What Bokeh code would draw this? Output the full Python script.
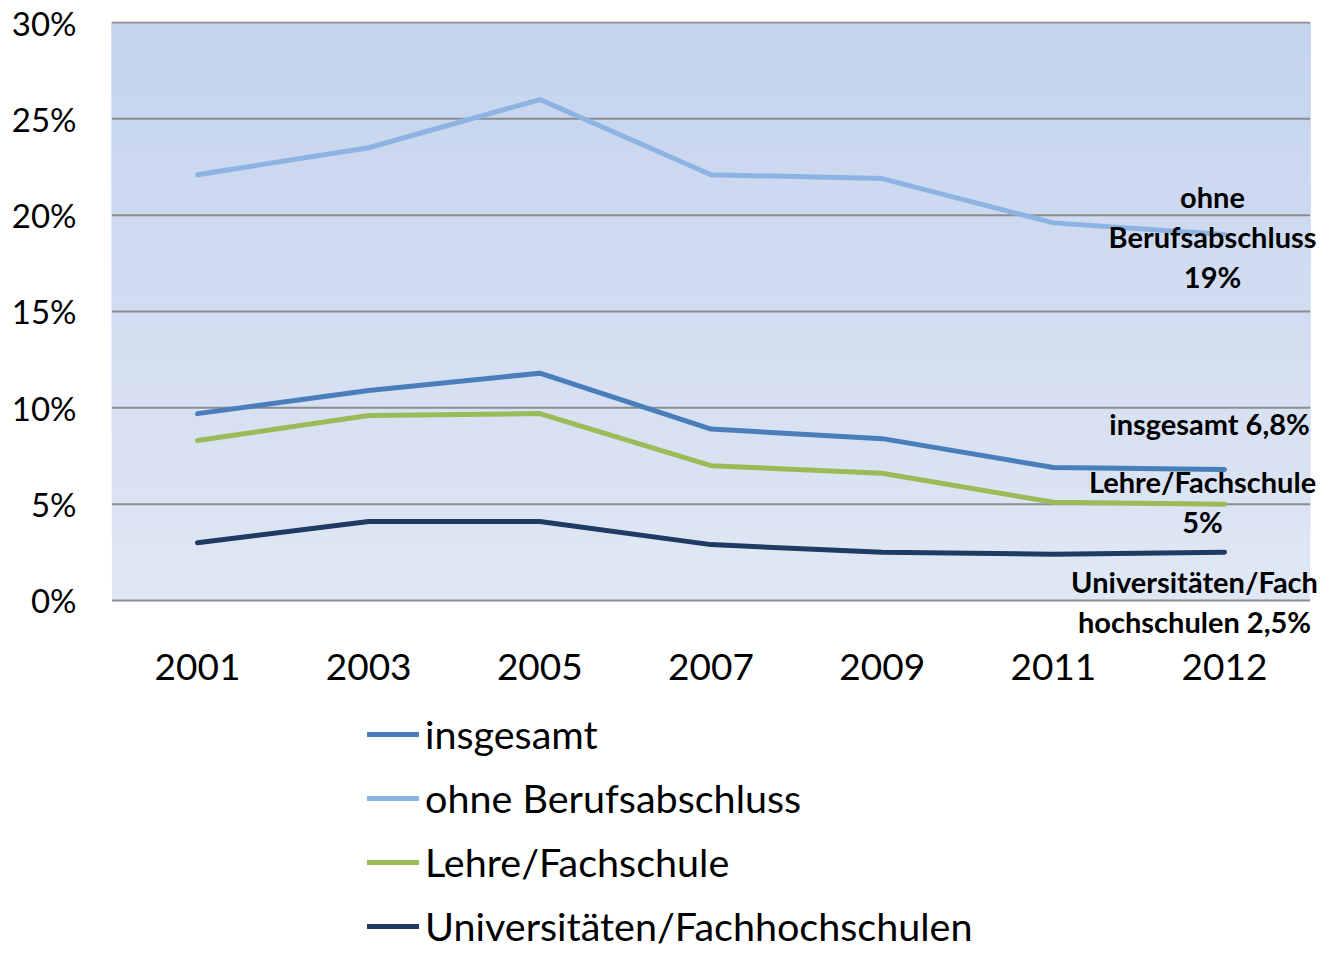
from bokeh.plotting import figure
from bokeh.layouts import column
from bokeh.models import (Label, Legend, LegendItem, BoxAnnotation, Range1d,
                          PrintfTickFormatter, FixedTicker)
from bokeh.embed import file_html
from bokeh.resources import INLINE

years = ["2001", "2003", "2005", "2007", "2009", "2011", "2012"]
insgesamt = [9.7, 10.9, 11.8, 8.9, 8.4, 6.9, 6.8]
ohne_beruf = [22.1, 23.5, 26.0, 22.1, 21.9, 19.6, 19.0]
lehre = [8.3, 9.6, 9.7, 7.0, 6.6, 5.1, 5.0]
uni = [3.0, 4.1, 4.1, 2.9, 2.5, 2.4, 2.5]
y_ticks = [0, 5, 10, 15, 20, 25, 30]

names = ["insgesamt", "ohne Berufsabschluss", "Lehre/Fachschule", "Universitäten/Fachhochschulen"]
series = [insgesamt, ohne_beruf, lehre, uni]
colors = ["#4a7ebb", "#8db3e2", "#9bbb59", "#1f3a63"]

FONT = "Lato"
W = 1318
H1, H2 = 700, 249
xi = list(range(len(years)))

p = figure(width=W, height=H1,
           x_range=Range1d(-0.5024, 6.549), y_range=Range1d(-2.336, 30.052),
           output_backend="svg", toolbar_location=None,
           min_border_left=111, min_border_right=0, min_border_top=21, min_border_bottom=55)
p.outline_line_color = None
p.background_fill_color = "white"
p.border_fill_color = "white"
p.xgrid.visible = False
p.ygrid.visible = False

# gradient background of plot area (overlapping bands, no seams)
n = 48
c_top = (0xc4, 0xd3, 0xee)
c_bot = (0xe0, 0xe7, 0xf4)
x_lo, x_hi = xi[0] - 0.5, xi[-1] + 0.5
for i in range(n):
    t = i / (n - 1)
    col = tuple(int(round(c_bot[k] + (c_top[k] - c_bot[k]) * t)) for k in range(3))
    p.add_layout(BoxAnnotation(left=x_lo, right=x_hi, bottom=30 * i / n, top=30,
                               fill_color="#%02x%02x%02x" % col, fill_alpha=1.0,
                               line_color=None, level="image"))

# horizontal gridlines restricted to plot area
p.segment(x0=[x_lo] * len(y_ticks), x1=[x_hi] * len(y_ticks), y0=y_ticks, y1=y_ticks,
          line_color="#8c8c8c", line_width=2, level="underlay")

p.yaxis.ticker = FixedTicker(ticks=y_ticks)
p.yaxis.formatter = PrintfTickFormatter(format="%d%%")
p.yaxis.axis_line_color = None
p.yaxis.major_tick_line_color = None
p.yaxis.minor_tick_line_color = None
p.yaxis.major_label_text_font = FONT
p.yaxis.major_label_text_font_size = "33px"
p.yaxis.major_label_text_color = "black"
p.yaxis.major_label_standoff = 29

p.xaxis.ticker = FixedTicker(ticks=xi)
p.xaxis.major_label_overrides = {i: y for i, y in zip(xi, years)}
p.xaxis.axis_line_color = None
p.xaxis.major_tick_line_color = None
p.xaxis.minor_tick_line_color = None
p.xaxis.major_label_text_font = FONT
p.xaxis.major_label_text_font_size = "37px"
p.xaxis.major_label_text_color = "black"
p.xaxis.major_label_standoff = 2

for name, vals, col in zip(names, series, colors):
    p.line(xi, vals, line_color=col, line_width=5, line_cap="round", line_join="round")

# end labels
def fmt(v):
    s = ("%.1f" % v).replace(".", ",")
    return s[:-2] if s.endswith(",0") else s

lab_kw = dict(text_font=FONT, text_font_style="bold", text_font_size="29px",
              text_color="black", text_align="center", text_baseline="middle",
              text_line_height=1.15)
xe = xi[-1]
p.add_layout(Label(x=xe, y=ohne_beruf[-1], x_offset=-12, y_offset=-2,
                   text="ohne\nBerufsabschluss\n" + fmt(ohne_beruf[-1]) + "%", **lab_kw))
p.add_layout(Label(x=xe, y=insgesamt[-1], x_offset=-15, y_offset=46,
                   text="insgesamt " + fmt(insgesamt[-1]) + "%", **lab_kw))
p.add_layout(Label(x=xe, y=lehre[-1], x_offset=-22, y_offset=3,
                   text="Lehre/Fachschule\n" + fmt(lehre[-1]) + "%", **lab_kw))
p.add_layout(Label(x=xe, y=uni[-1], x_offset=-30, y_offset=-49,
                   text="Universitäten/Fach\nhochschulen " + fmt(uni[-1]) + "%", **lab_kw))

# legend figure (series drawn out of view; only the legend shows)
q = figure(width=W, height=H2, x_range=Range1d(0, 1), y_range=Range1d(1000, 1001),
           output_backend="svg", toolbar_location=None,
           min_border_left=0, min_border_right=0, min_border_top=0, min_border_bottom=0)
q.axis.visible = False
q.grid.visible = False
q.outline_line_color = None
items = []
for name, vals, col in zip(names, series, colors):
    r = q.line(xi, vals, line_color=col, line_width=5, line_cap="round")
    items.append(LegendItem(label=name, renderers=[r]))
legend = Legend(items=items, location=(256, 0), orientation="vertical",
                label_text_font=FONT, label_text_font_size="39.5px", label_text_color="black",
                label_height=44, glyph_height=44, glyph_width=52, label_standoff=6,
                spacing=17, padding=0, margin=0, border_line_color=None,
                background_fill_alpha=0)
q.add_layout(legend, "center")

open("out.html", "w").write(file_html(column(p, q, spacing=0), INLINE))
